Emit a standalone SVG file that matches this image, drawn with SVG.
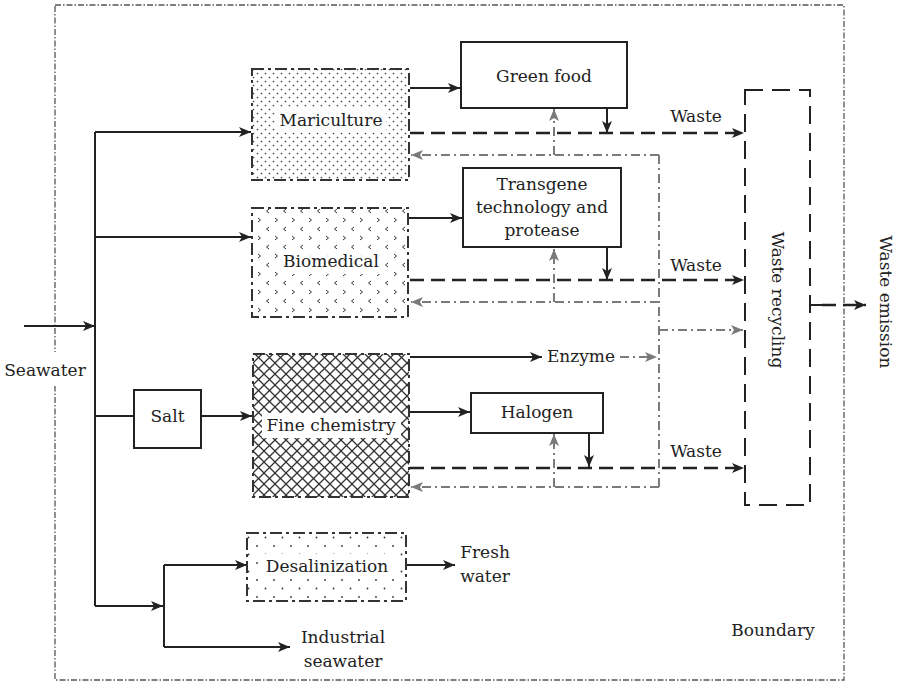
<svg xmlns="http://www.w3.org/2000/svg" width="900" height="682" viewBox="0 0 900 682" font-family="'DejaVu Serif', 'Liberation Serif', serif">
  <style>
    text { font-family: "DejaVu Serif", "Liberation Serif", serif; font-size: 17px; fill: #222; }
    .c { text-anchor: middle; }
    .solid { fill: none; stroke: #222; stroke-width: 2; }
    .dash { fill: none; stroke: #222; stroke-width: 2.4; stroke-dasharray: 14 7; }
    .gray { fill: none; stroke: #7a7a7a; stroke-width: 2; stroke-dasharray: 9 4 2 4; }
    .box { fill: #fff; stroke: #222; stroke-width: 2; }
    .pbox { stroke: #333; stroke-width: 2; stroke-dasharray: 12 4 3 4; }
    .bg { fill: #fff; }
  </style>
  <defs>
    <marker id="ah" markerUnits="userSpaceOnUse" markerWidth="13" markerHeight="10" refX="12" refY="5" orient="auto">
      <path d="M0,0 L12,5 L0,10 L3,5 z" fill="#222"/>
    </marker>
    <marker id="ahg" markerUnits="userSpaceOnUse" markerWidth="13" markerHeight="10" refX="12" refY="5" orient="auto">
      <path d="M0,0 L12,5 L0,10 L3,5 z" fill="#7a7a7a"/>
    </marker>
    <!-- staggered fine dots -->
    <pattern id="pDots" width="8" height="8" patternUnits="userSpaceOnUse">
      <rect width="8" height="8" fill="#fff"/>
      <circle cx="1.5" cy="1.5" r="0.85" fill="#444"/>
      <circle cx="5.5" cy="5.5" r="0.85" fill="#444"/>
    </pattern>
    <!-- chevrons -->
    <pattern id="pChev" width="17" height="18" patternUnits="userSpaceOnUse">
      <rect width="17" height="18" fill="#fff"/>
      <path d="M3,2 L5.5,4 L3,6" fill="none" stroke="#333" stroke-width="1"/>
      <path d="M14,11 L11.5,13 L14,15" fill="none" stroke="#333" stroke-width="1"/>
    </pattern>
    <!-- diagonal crosshatch -->
    <pattern id="pHatch" width="11" height="11" patternUnits="userSpaceOnUse">
      <rect width="11" height="11" fill="#fff"/>
      <path d="M0,0 L11,11 M11,0 L0,11" stroke="#333" stroke-width="1.3"/>
    </pattern>
    <!-- sparse dots -->
    <pattern id="pSparse" width="17" height="17" patternUnits="userSpaceOnUse">
      <rect width="17" height="17" fill="#fff"/>
      <circle cx="2" cy="2" r="0.9" fill="#333"/>
      <circle cx="10.5" cy="10.5" r="0.9" fill="#333"/>
    </pattern>
  </defs>

  <rect width="900" height="682" fill="#fff"/>

  <!-- system boundary -->
  <g id="boundary">
    <rect x="55" y="5" width="789" height="675" fill="none" stroke="#555" stroke-width="1.3" stroke-dasharray="6 2 1.5 2"/>
    <rect class="bg" x="2" y="352" width="88" height="34"/>
    <text x="45" y="376" class="c">Seawater</text>
    <text x="773" y="636" class="c">Boundary</text>
  </g>

  <g id="connectors">
    <!-- seawater intake and distribution -->
    <path class="solid" d="M24,326 H95" marker-end="url(#ah)"/>
    <path class="solid" d="M95,132 V606"/>
    <path class="solid" d="M95,132 H251" marker-end="url(#ah)"/>
    <path class="solid" d="M95,237 H251" marker-end="url(#ah)"/>
    <path class="solid" d="M95,416 H134"/>
    <path class="solid" d="M201,416 H252" marker-end="url(#ah)"/>
    <path class="solid" d="M95,606 H163" marker-end="url(#ah)"/>
    <path class="solid" d="M164,565 V647"/>
    <path class="solid" d="M164,565 H247" marker-end="url(#ah)"/>
    <path class="solid" d="M164,647 H290" marker-end="url(#ah)"/>
    <path class="solid" d="M406,565 H455" marker-end="url(#ah)"/>

    <!-- product flows -->
    <path class="solid" d="M410,88 H460" marker-end="url(#ah)"/>
    <path class="solid" d="M607,108 V133" marker-end="url(#ah)"/>
    <path class="solid" d="M409,218 H462" marker-end="url(#ah)"/>
    <path class="solid" d="M607,247 V280" marker-end="url(#ah)"/>
    <path class="solid" d="M410,357 H542" marker-end="url(#ah)"/>
    <path class="solid" d="M410,412 H470" marker-end="url(#ah)"/>
    <path class="solid" d="M589,433 V467" marker-end="url(#ah)"/>

    <!-- waste streams -->
    <path class="dash" d="M410,133 H744" marker-end="url(#ah)"/>
    <path class="dash" d="M410,280 H744" marker-end="url(#ah)"/>
    <path class="dash" d="M410,468 H744" marker-end="url(#ah)"/>
    <path class="solid" d="M810,305 H822"/>
    <path class="dash" d="M822,305 H866" stroke-dasharray="8 6" marker-end="url(#ah)"/>

    <!-- recycled flows -->
    <path class="gray" d="M659,155 V487"/>
    <path class="gray" d="M659,155 H411" marker-end="url(#ahg)"/>
    <path class="gray" d="M659,302 H411" marker-end="url(#ahg)"/>
    <path class="gray" d="M659,487 H411" marker-end="url(#ahg)"/>
    <path class="gray" d="M659,330 H743" marker-end="url(#ahg)"/>
    <path class="gray" d="M620,357 H657" marker-end="url(#ahg)"/>
    <path class="gray" d="M554,155 V109" marker-end="url(#ahg)"/>
    <path class="gray" d="M554,302 V249" marker-end="url(#ahg)"/>
    <path class="gray" d="M554,487 V434" marker-end="url(#ahg)"/>
  </g>

  <g id="mariculture">
    <rect class="pbox" x="252" y="69" width="157" height="111" fill="url(#pDots)"/>
    <rect class="bg" x="276" y="108" width="110" height="24" opacity="0.9"/>
    <text x="331" y="126" class="c">Mariculture</text>
  </g>

  <g id="biomedical">
    <rect class="pbox" x="252" y="208" width="156" height="109" fill="url(#pChev)"/>
    <rect class="bg" x="280" y="250" width="102" height="24" opacity="0.9"/>
    <text x="331" y="267" class="c">Biomedical</text>
  </g>

  <g id="fine-chemistry">
    <rect class="pbox" x="253" y="354" width="156" height="143" fill="url(#pHatch)"/>
    <rect class="bg" x="262" y="413" width="139" height="25"/>
    <text x="331" y="431" class="c">Fine chemistry</text>
  </g>

  <g id="desalinization">
    <rect class="pbox" x="247" y="533" width="159" height="68" fill="url(#pSparse)" stroke-dasharray="10 5"/>
    <rect class="bg" x="262" y="554" width="132" height="24"/>
    <text x="327" y="572" class="c">Desalinization</text>
  </g>

  <g id="salt">
    <rect class="box" x="134" y="390" width="67" height="58"/>
    <text x="167.5" y="422" class="c">Salt</text>
  </g>

  <g id="green-food">
    <rect class="box" x="461" y="42" width="166" height="66"/>
    <text x="544" y="82" class="c">Green food</text>
  </g>

  <g id="transgene">
    <rect class="box" x="463" y="168" width="158" height="79"/>
    <text x="542" y="190" class="c">Transgene</text>
    <text x="542" y="213" class="c">technology and</text>
    <text x="542" y="236" class="c">protease</text>
  </g>

  <g id="halogen">
    <rect class="box" x="471" y="393" width="132" height="40"/>
    <text x="537" y="418" class="c">Halogen</text>
  </g>

  <g id="waste-recycling">
    <rect x="745" y="90" width="65" height="415" fill="none" stroke="#222" stroke-width="2" stroke-dasharray="18 9"/>
    <text transform="translate(772,300) rotate(90)" class="c">Waste recycling</text>
  </g>

  <g id="labels">
    <text x="696" y="122" class="c">Waste</text>
    <text x="696" y="271" class="c">Waste</text>
    <text x="696" y="457" class="c">Waste</text>
    <text x="581" y="362" class="c">Enzyme</text>
    <text x="485" y="558" class="c">Fresh</text>
    <text x="485" y="582" class="c">water</text>
    <text x="343" y="643" class="c">Industrial</text>
    <text x="343" y="667" class="c">seawater</text>
    <text transform="translate(880,302) rotate(90)" class="c">Waste emission</text>
  </g>
</svg>
